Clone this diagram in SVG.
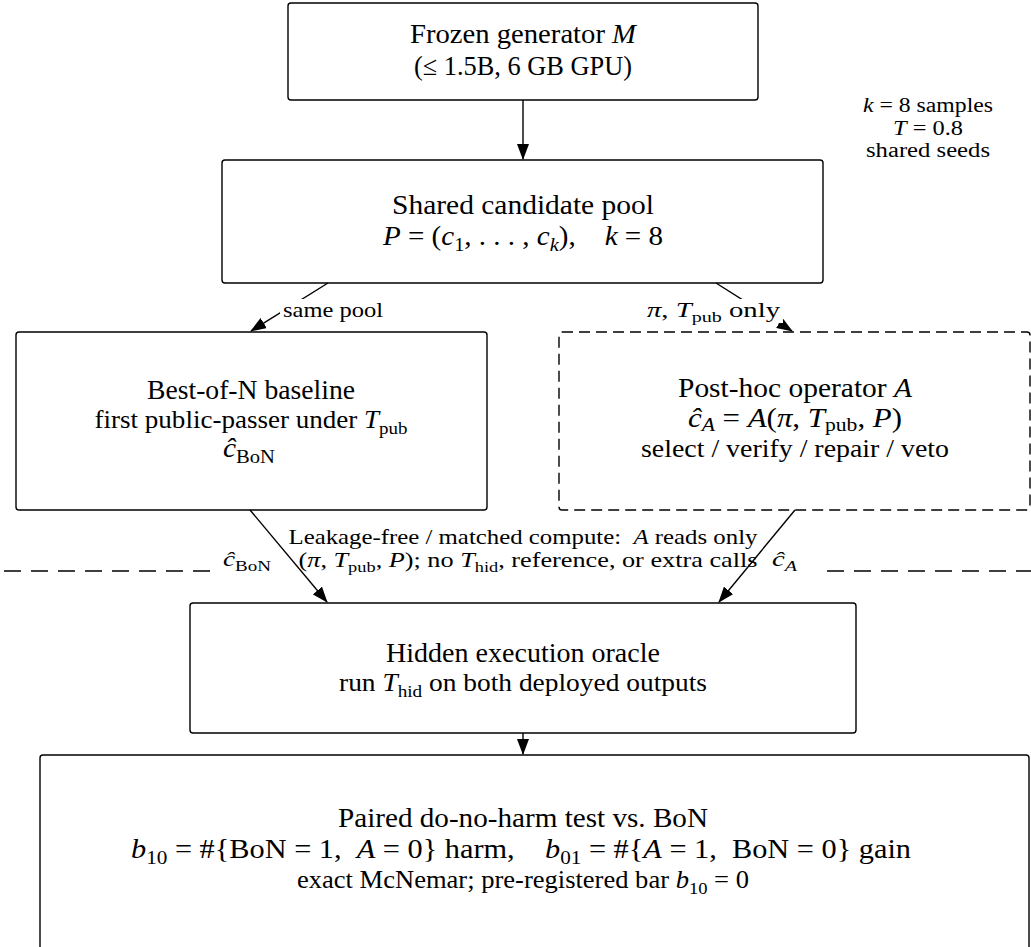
<svg xmlns="http://www.w3.org/2000/svg" width="1031" height="947" viewBox="0 0 1031 947">
<style>
.box{fill:#fff;stroke:#000;stroke-width:1.4}
.dsh{stroke-dasharray:11 6}
.sep{stroke-dasharray:17 10}
.ln{fill:none;stroke:#000;stroke-width:1.4}
text{font-family:"Liberation Serif","DejaVu Serif",serif;fill:#000}
.t{font-size:27px;text-anchor:middle}
.s{font-size:25px;text-anchor:middle}
.l{font-size:21px}
.n{font-size:20px}
.c{text-anchor:middle}
.i{font-style:italic}
.sb{font-size:70%}
</style>
<defs>
<marker id="arr" markerWidth="16" markerHeight="12" refX="15" refY="6" orient="auto" markerUnits="userSpaceOnUse"><path d="M0,0 L16,6 L0,12 z" fill="#000"/></marker>
</defs>
<rect width="1031" height="947" fill="#fff"/>

<g id="separator"><path class="ln sep" d="M4,571 H216 M827,571 H1031"/></g>

<g id="node-generator">
<rect class="box" x="288" y="3" width="470" height="97" rx="3"/>
<text class="t" x="523" y="43" textLength="226" lengthAdjust="spacingAndGlyphs">Frozen generator <tspan class="i">M</tspan></text>
<text class="t" x="523" y="75" textLength="218" lengthAdjust="spacingAndGlyphs">(≤ 1.5B, 6 GB GPU)</text>
</g>

<g id="note-sampling">
<text class="n c" x="928" y="112" textLength="130" lengthAdjust="spacingAndGlyphs"><tspan class="i">k</tspan> = 8 samples</text>
<text class="n c" x="928" y="134.5" textLength="70" lengthAdjust="spacingAndGlyphs"><tspan class="i">T</tspan> = 0.8</text>
<text class="n c" x="928" y="157" textLength="124" lengthAdjust="spacingAndGlyphs">shared seeds</text>
</g>

<g id="node-pool">
<rect class="box" x="222" y="160" width="601" height="123" rx="3"/>
<text class="t" x="523" y="214" textLength="262" lengthAdjust="spacingAndGlyphs">Shared candidate pool</text>
<text class="t" x="523" y="245" textLength="280" lengthAdjust="spacingAndGlyphs"><tspan class="i">P</tspan> = (<tspan class="i">c</tspan><tspan class="sb" dy="6">1</tspan><tspan dy="-6">, . . . , </tspan><tspan class="i">c</tspan><tspan class="sb i" dy="6">k</tspan><tspan dy="-6">),&#160;&#160;&#160;&#160;</tspan><tspan class="i">k</tspan> = 8</text>
</g>

<g id="node-bon">
<rect class="box" x="16" y="332" width="471" height="178" rx="3"/>
<text class="t" x="251" y="399" textLength="208" lengthAdjust="spacingAndGlyphs">Best-of-N baseline</text>
<text class="s" x="251" y="428" textLength="313" lengthAdjust="spacingAndGlyphs">first public-passer under <tspan class="i">T</tspan><tspan class="sb" dy="6">pub</tspan></text>
<text class="t" x="249" y="457" textLength="52" lengthAdjust="spacingAndGlyphs"><tspan class="i">ĉ</tspan><tspan class="sb" dy="6">BoN</tspan></text>
</g>

<g id="node-operator">
<rect class="box dsh" x="559" y="332" width="471" height="178" rx="3"/>
<text class="t" x="795" y="397" textLength="234" lengthAdjust="spacingAndGlyphs">Post-hoc operator <tspan class="i">A</tspan></text>
<text class="t" x="795" y="427" textLength="214" lengthAdjust="spacingAndGlyphs"><tspan class="i">ĉ</tspan><tspan class="sb i" dy="4">A</tspan><tspan dy="-4"> = </tspan><tspan class="i">A</tspan>(<tspan class="i">π</tspan>, <tspan class="i">T</tspan><tspan class="sb" dy="4">pub</tspan><tspan dy="-4">, </tspan><tspan class="i">P</tspan>)</text>
<text class="s" x="795" y="457" textLength="308" lengthAdjust="spacingAndGlyphs">select / verify / repair / veto</text>
</g>

<g id="node-oracle">
<rect class="box" x="190" y="603" width="666" height="130" rx="3"/>
<text class="t" x="523" y="662" textLength="274" lengthAdjust="spacingAndGlyphs">Hidden execution oracle</text>
<text class="s" x="523" y="691" textLength="368" lengthAdjust="spacingAndGlyphs">run <tspan class="i">T</tspan><tspan class="sb" dy="6">hid</tspan><tspan dy="-6"> on both deployed outputs</tspan></text>
</g>

<g id="node-test">
<rect class="box" x="40" y="755" width="989" height="205" rx="3"/>
<text class="t" x="523" y="827" textLength="370" lengthAdjust="spacingAndGlyphs">Paired do-no-harm test vs. BoN</text>
<text class="t" x="521" y="858" textLength="780" lengthAdjust="spacingAndGlyphs"><tspan class="i">b</tspan><tspan class="sb" dy="6">10</tspan><tspan dy="-6"> = #{BoN = 1,&#160;&#160;</tspan><tspan class="i">A</tspan> = 0} harm,&#160;&#160;&#160;&#160;<tspan class="i">b</tspan><tspan class="sb" dy="6">01</tspan><tspan dy="-6"> = #{</tspan><tspan class="i">A</tspan> = 1,&#160;&#160;BoN = 0} gain</text>
<text class="s" x="523" y="888" textLength="452" lengthAdjust="spacingAndGlyphs">exact McNemar; pre-registered bar <tspan class="i">b</tspan><tspan class="sb" dy="6">10</tspan><tspan dy="-6"> = 0</tspan></text>
</g>

<g id="connectors">
<path class="ln" d="M523,100 V159" marker-end="url(#arr)"/>
<path class="ln" d="M328,283 L251,331" marker-end="url(#arr)"/>
<path class="ln" d="M716,283 L792,331" marker-end="url(#arr)"/>
<path class="ln" d="M250,510 L327,602" marker-end="url(#arr)"/>
<path class="ln" d="M795,510 L719,602" marker-end="url(#arr)"/>
<path class="ln" d="M523,733 V754" marker-end="url(#arr)"/>
<rect x="280" y="299" width="108" height="24" fill="#fff"/>
<text class="l" x="283" y="317" textLength="100" lengthAdjust="spacingAndGlyphs">same pool</text>
<rect x="641" y="299" width="142" height="24" fill="#fff"/>
<text class="l" x="780" y="317" text-anchor="end" textLength="133" lengthAdjust="spacingAndGlyphs"><tspan class="i">π</tspan>, <tspan class="i">T</tspan><tspan class="sb" dy="5">pub</tspan><tspan dy="-5"> only</tspan></text>
<text class="l" x="223" y="566" textLength="48" lengthAdjust="spacingAndGlyphs"><tspan class="i">ĉ</tspan><tspan class="sb" dy="5">BoN</tspan></text>
<text class="l" x="772" y="566" textLength="25" lengthAdjust="spacingAndGlyphs"><tspan class="i">ĉ</tspan><tspan class="sb i" dy="5">A</tspan></text>
<text class="l c" x="523" y="543.5" textLength="469" lengthAdjust="spacingAndGlyphs">Leakage-free / matched compute:&#160; <tspan class="i">A</tspan> reads only</text>
<text class="l c" x="528" y="567" textLength="459" lengthAdjust="spacingAndGlyphs">(<tspan class="i">π</tspan>, <tspan class="i">T</tspan><tspan class="sb" dy="5">pub</tspan><tspan dy="-5">, </tspan><tspan class="i">P</tspan>); no <tspan class="i">T</tspan><tspan class="sb" dy="5">hid</tspan><tspan dy="-5">, reference, or extra calls</tspan></text>
</g>
</svg>
